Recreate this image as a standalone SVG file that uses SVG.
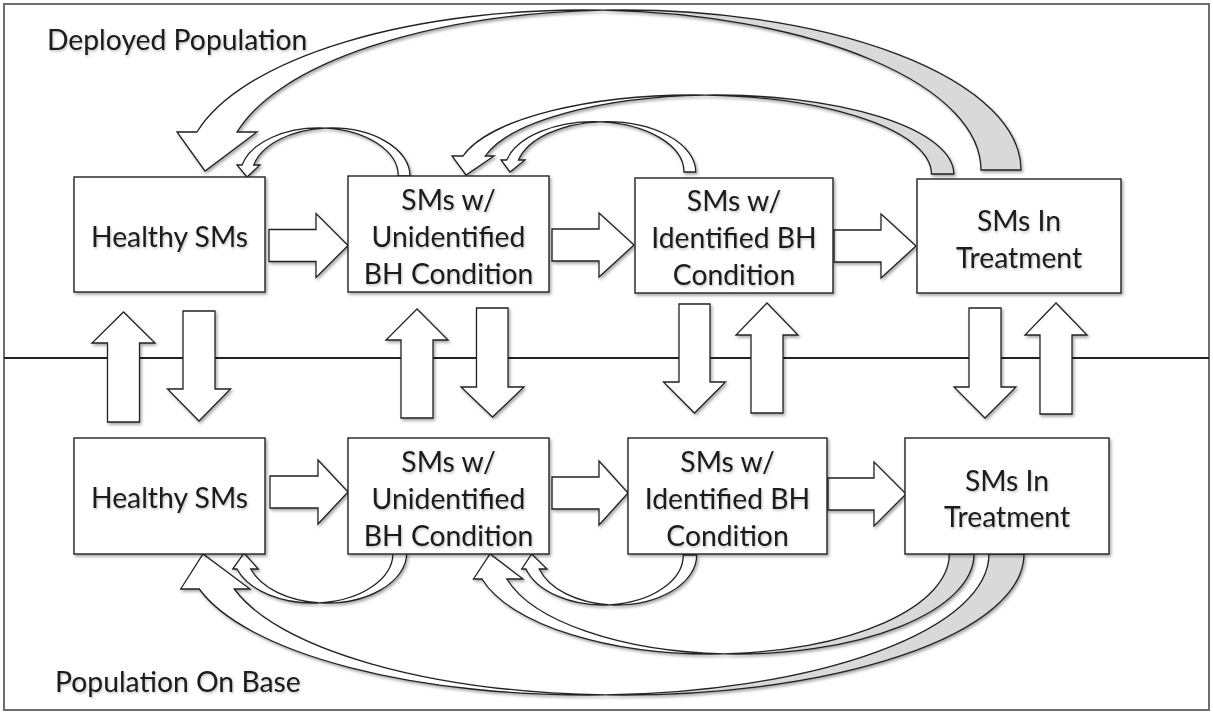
<svg xmlns="http://www.w3.org/2000/svg" width="1213" height="713" viewBox="0 0 1213 713">
  <defs>
    <style>
      .frame { fill: #fff; stroke: #6e6e6e; stroke-width: 2; }
      .divider { stroke: #222; stroke-width: 2; }
      .box { fill: #fff; stroke: #222; stroke-width: 1.4; }
      .blk { fill: #fff; stroke: #222; stroke-width: 1.3; stroke-linejoin: miter; }
      .back { fill: #d9d9d9; stroke: #222; stroke-width: 1.3; }
      .lbl { font-family: Lato, "Liberation Sans", sans-serif; font-size: 28.3px; fill: #1a1a1a; text-anchor: middle; }
      .region { font-family: Lato, "Liberation Sans", sans-serif; font-size: 28.3px; fill: #1a1a1a; }
    </style>
    <filter id="shadow" x="-10%" y="-10%" width="120%" height="130%">
      <feDropShadow dx="1.5" dy="2" stdDeviation="1.5" flood-color="#000" flood-opacity="0.35"/>
    </filter>
    <filter id="tshadow" x="-5%" y="-20%" width="110%" height="150%">
      <feDropShadow dx="1" dy="1.5" stdDeviation="1.2" flood-color="#000" flood-opacity="0.25"/>
    </filter>
  </defs>

  <!-- outer frame and the line between the two populations -->
  <rect class="frame" x="4" y="4" width="1205" height="706"/>
  <line class="divider" x1="4" y1="358" x2="1209" y2="358"/>

  <!-- region labels -->
  <g id="labels" filter="url(#tshadow)">
    <text class="region" x="47" y="50">Deployed Population</text>
    <text class="region" x="55" y="692">Population On Base</text>
  </g>

  <g id="connectors" filter="url(#shadow)">
    <!-- horizontal flow arrows, deployed row -->
    <polygon class="blk" points="269,229.5 316,229.5 316,213.5 348,245.5 316,277.5 316,261.5 269,261.5"/>
    <polygon class="blk" points="552,229 599,229 599,213 634,245 599,277 599,261 552,261"/>
    <polygon class="blk" points="834,230 881,230 881,214 916,246 881,278 881,262 834,262"/>
    <!-- horizontal flow arrows, on-base row -->
    <polygon class="blk" points="270,476 318,476 318,460 348,492 318,524 318,508 270,508"/>
    <polygon class="blk" points="552,477 599,477 599,461 628,493 599,525 599,509 552,509"/>
    <polygon class="blk" points="828,478 874,478 874,462 906,494 874,526 874,510 828,510"/>

    <!-- vertical transfer arrows between the populations -->
    <polygon class="blk" points="107.5,422 107.5,343 92,343 123.5,312 155,343 139.5,343 139.5,422"/>
    <polygon class="blk" points="183,311 215,311 215,389 230.5,389 199,421 167.5,389 183,389"/>
    <polygon class="blk" points="401,418 401,340 386,340 417,309 448,340 433,340 433,418"/>
    <polygon class="blk" points="476.5,308 508,308 508,387 524,387 492.5,417 461,387 476.5,387"/>
    <polygon class="blk" points="679,304 710,304 710,382 725.5,382 694.5,413 663.5,382 679,382"/>
    <polygon class="blk" points="751,413 751,335 736,335 767,303 798,335 783,335 783,413"/>
    <polygon class="blk" points="969,308 1001,308 1001,387 1016,387 985,418 954,387 969,387"/>
    <polygon class="blk" points="1040,414 1040,335 1025,335 1056,303 1087,335 1072,335 1072,414"/>

    <!-- curved return arrows above the deployed row -->
    <g id="ret-treat-healthy-dep">
      <path class="blk" d="M237,132 L257,132 L205,171 L177,132 L197,132 A398,160 0 0 1 603,10.2 A398,160 0 0 0 237,132 Z"/>
      <path class="back" d="M603,10.2 A398,160 0 0 1 1021,170 L981,170 A398,160 0 0 0 603,10.2 Z"/>
    </g>
    <g id="ret-treat-unid-dep">
      <path class="blk" d="M485.2,156 L494,156 L466,175 L452,156 L463,156 A237.4,79 0 0 1 705.2,95.1 A237.4,79 0 0 0 485.2,156 Z"/>
      <path class="back" d="M705.2,95.1 A237.4,79 0 0 1 953.8,174 L931.5,174 A237.4,79 0 0 0 705.2,95.1 Z"/>
    </g>
    <g id="ret-id-unid-dep">
      <path class="blk" d="M518.5,160 L525,160 L510,172 L501,160 L506.7,160 A89.95,50.3 0 0 1 600,121.8 A89.95,50.3 0 0 0 518.5,160 Z"/>
      <path class="blk" d="M600,121.8 A89.95,50.3 0 0 1 695.8,172 L684,172 A89.95,50.3 0 0 0 600,121.8 Z"/>
    </g>
    <g id="ret-unid-healthy-dep">
      <path class="blk" d="M253.7,165 L260,165 L247,177 L237,165 L242,165 A79.2,48 0 0 1 325,128.1 A79.2,48 0 0 0 253.7,165 Z"/>
      <path class="blk" d="M325,128.1 A79.2,48 0 0 1 410,176 L398.3,176 A79.2,48 0 0 0 325,128.1 Z"/>
    </g>

    <!-- curved return arrows below the on-base row -->
    <g id="ret-unid-healthy-base">
      <path class="blk" d="M250.7,569 L258.3,569 L244,553 L232.7,569 L237,569 A80.1,50 0 0 0 319.75,602.8 A80.1,50 0 0 1 250.7,569 Z"/>
      <path class="blk" d="M319.75,602.8 A80.1,50 0 0 0 406.7,553 L393,553 A80.1,50 0 0 1 319.75,602.8 Z"/>
    </g>
    <g id="ret-id-unid-base">
      <path class="blk" d="M539.3,569 L547,569 L531.7,554 L521.7,569 L526,569 A80.3,50 0 0 0 609.7,604.8 A80.3,50 0 0 1 539.3,569 Z"/>
      <path class="blk" d="M609.7,604.8 A80.3,50 0 0 0 696.7,555 L683.3,555 A80.3,50 0 0 1 609.7,604.8 Z"/>
    </g>
    <g id="ret-treat-unid-base">
      <path class="blk" d="M506.8,579 L523,579 L490,554 L473.5,579 L482,579 A237.4,100 0 0 0 724.25,653.9 A237.4,100 0 0 1 506.8,579 Z"/>
      <path class="back" d="M724.25,653.9 A237.4,100 0 0 0 974,554 L949.3,554 A237.4,100 0 0 1 724.25,653.9 Z"/>
    </g>
    <g id="ret-treat-healthy-base">
      <path class="blk" d="M234.3,589 L250,589 L203,554 L180.7,589 L199.3,589 A401.1,141 0 0 0 605.4,694.9 A401.1,141 0 0 1 234.3,589 Z"/>
      <path class="back" d="M605.4,694.9 A401.1,141 0 0 0 1024,554 L989,554 A401.1,141 0 0 1 605.4,694.9 Z"/>
    </g>
  </g>

  <!-- deployed population states -->
  <g id="dep-healthy">
    <rect class="box" x="74" y="177" width="191" height="115" filter="url(#shadow)"/>
    <text class="lbl" x="169.5" y="247" filter="url(#tshadow)">Healthy SMs</text>
  </g>
  <g id="dep-unidentified">
    <rect class="box" x="348" y="176" width="201" height="116" filter="url(#shadow)"/>
    <text class="lbl" x="448.5" y="210" filter="url(#tshadow)">SMs w/</text>
    <text class="lbl" x="448.5" y="247" filter="url(#tshadow)">Unidentified</text>
    <text class="lbl" x="448.5" y="284" filter="url(#tshadow)">BH Condition</text>
  </g>
  <g id="dep-identified">
    <rect class="box" x="635" y="178" width="198" height="115" filter="url(#shadow)"/>
    <text class="lbl" x="734" y="211" filter="url(#tshadow)">SMs w/</text>
    <text class="lbl" x="734" y="248" filter="url(#tshadow)">Identified BH</text>
    <text class="lbl" x="734" y="285" filter="url(#tshadow)">Condition</text>
  </g>
  <g id="dep-treatment">
    <rect class="box" x="917" y="179" width="204" height="114" filter="url(#shadow)"/>
    <text class="lbl" x="1019" y="231" filter="url(#tshadow)">SMs In</text>
    <text class="lbl" x="1019" y="268" filter="url(#tshadow)">Treatment</text>
  </g>

  <!-- on-base population states -->
  <g id="base-healthy">
    <rect class="box" x="74" y="438" width="191" height="116" filter="url(#shadow)"/>
    <text class="lbl" x="169.5" y="508" filter="url(#tshadow)">Healthy SMs</text>
  </g>
  <g id="base-unidentified">
    <rect class="box" x="348" y="438" width="201" height="116" filter="url(#shadow)"/>
    <text class="lbl" x="448.5" y="472" filter="url(#tshadow)">SMs w/</text>
    <text class="lbl" x="448.5" y="509" filter="url(#tshadow)">Unidentified</text>
    <text class="lbl" x="448.5" y="546" filter="url(#tshadow)">BH Condition</text>
  </g>
  <g id="base-identified">
    <rect class="box" x="628" y="438" width="199" height="116" filter="url(#shadow)"/>
    <text class="lbl" x="727.5" y="472" filter="url(#tshadow)">SMs w/</text>
    <text class="lbl" x="727.5" y="509" filter="url(#tshadow)">Identified BH</text>
    <text class="lbl" x="727.5" y="546" filter="url(#tshadow)">Condition</text>
  </g>
  <g id="base-treatment">
    <rect class="box" x="905" y="438" width="204" height="116" filter="url(#shadow)"/>
    <text class="lbl" x="1007" y="491" filter="url(#tshadow)">SMs In</text>
    <text class="lbl" x="1007" y="527" filter="url(#tshadow)">Treatment</text>
  </g>
</svg>
